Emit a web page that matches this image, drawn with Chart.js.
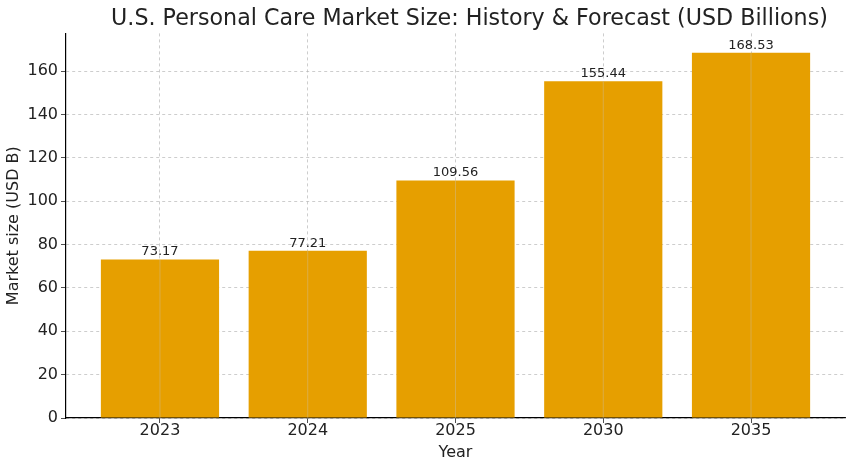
<!DOCTYPE html>
<html>
<head>
<meta charset="utf-8">
<script src="https://cdn.jsdelivr.net/npm/chart.js@4"></script>
<style>
  html, body { margin: 0; padding: 0; background: #fff; }
  #wrap { width: 855px; height: 470px; }
</style>
</head>
<body>
<div id="wrap"><canvas id="chart"></canvas></div>
<script>
// Data
const years = ['2023', '2024', '2025', '2030', '2035'];
const marketSize = [73.17, 77.21, 109.56, 155.44, 168.53];
const yTicks = [0, 20, 40, 60, 80, 100, 120, 140, 160];
const titleText = 'U.S. Personal Care Market Size: History & Forecast (USD Billions)';

const barColor = '#E69F00';
const gridColor = 'rgba(176,176,176,0.8)';
const font = 'DejaVu Sans';

// value labels above bars, faint vertical grid over bars, title centred on plot
const valueLabels = {
    id: 'valueLabels',
    afterDatasetsDraw(chart) {
        const ctx = chart.ctx;
        const meta = chart.getDatasetMeta(0);
        const area = chart.chartArea;
        ctx.save();
        // the vertical grid shows through the bars
        ctx.strokeStyle = 'rgba(200,200,200,0.45)';
        ctx.lineWidth = 0.8;
        meta.data.forEach((bar) => {
            ctx.beginPath();
            ctx.moveTo(bar.x, bar.y);
            ctx.lineTo(bar.x, area.bottom);
            ctx.stroke();
        });
        ctx.font = '13px "' + font + '"';
        ctx.fillStyle = '#222';
        ctx.textAlign = 'center';
        ctx.textBaseline = 'bottom';
        meta.data.forEach((bar, i) => {
            ctx.fillText(marketSize[i].toFixed(2), bar.x, bar.y - 1);
        });
        ctx.restore();
    },
    afterDraw(chart) {
        const ctx = chart.ctx;
        ctx.save();
        ctx.font = '22.2px "' + font + '"';
        ctx.fillStyle = '#222';
        ctx.textAlign = 'center';
        ctx.textBaseline = 'middle';
        ctx.fillText(titleText, (chart.chartArea.left + chart.chartArea.right) / 2 + 14, 19);
        ctx.restore();
    }
};

const ctx = document.getElementById('chart').getContext('2d');
new Chart(ctx, {
    type: 'bar',
    data: {
        datasets: [{
            data: marketSize.map((v, i) => ({ x: i, y: v })),
            backgroundColor: barColor,
            borderWidth: 0,
            barPercentage: 0.8,
            categoryPercentage: 1.0
        }]
    },
    options: {
        responsive: true,
        maintainAspectRatio: false,
        animation: false,
        layout: { padding: { left: 0, right: 10, top: 0, bottom: 8 } },
        plugins: {
            legend: { display: false },
            tooltip: { enabled: false },
            title: {
                // reserves the space; the text itself is drawn by valueLabels
                display: true,
                text: titleText,
                color: 'rgba(0,0,0,0)',
                font: { family: font, size: 22, weight: 'normal' },
                padding: { top: 5, bottom: 2 }
            }
        },
        scales: {
            x: {
                type: 'linear',
                offset: false,
                min: -0.636,
                max: 4.636,
                afterBuildTicks(scale) {
                    scale.ticks = years.map((y, i) => ({ value: i }));
                },
                afterFit(scale) { scale.height = 44; },
                ticks: {
                    color: '#222',
                    font: { family: font, size: 16 },
                    padding: -2,
                    callback: (v) => years[v]
                },
                grid: {
                    offset: false,
                    color: gridColor,
                    lineWidth: 0.8,
                    tickColor: '#222',
                    tickLength: 5,
                    tickBorderDash: []
                },
                border: { display: true, color: '#000', width: 1.2, dash: [3, 3] },
                title: {
                    display: true,
                    text: 'Year',
                    color: '#222',
                    font: { family: font, size: 16 },
                    padding: { top: 0, bottom: 0 }
                }
            },
            y: {
                min: 0,
                max: 177.5,
                afterBuildTicks(scale) {
                    scale.ticks = yTicks.map(v => ({ value: v }));
                },
                afterFit(scale) { scale.width = 66; },
                ticks: {
                    color: '#222',
                    font: { family: font, size: 16 },
                    padding: 3
                },
                grid: {
                    color: gridColor,
                    lineWidth: 0.8,
                    tickColor: '#222',
                    tickLength: 5,
                    tickBorderDash: []
                },
                border: { display: true, color: '#000', width: 1.2, dash: [3, 3] },
                title: {
                    display: true,
                    text: 'Market size (USD B)',
                    color: '#222',
                    font: { family: font, size: 16 },
                    padding: { bottom: 0 }
                }
            }
        }
    },
    plugins: [valueLabels]
});
</script>
</body>
</html>
